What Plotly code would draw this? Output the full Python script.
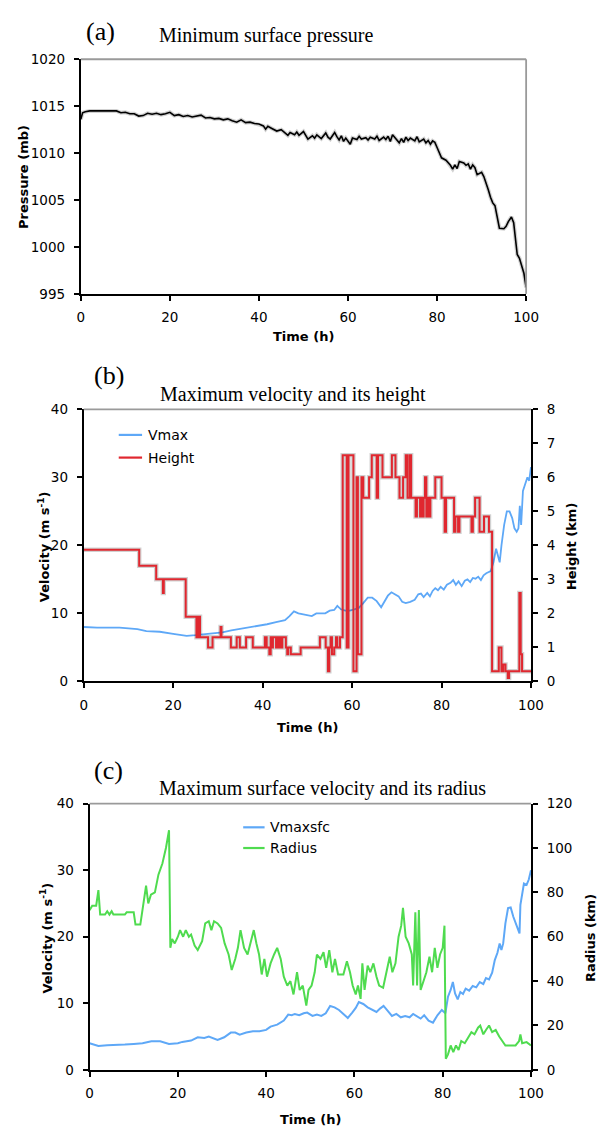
import plotly.graph_objects as go

# ---------- data ----------
# (a) minimum surface pressure (mb)
p_time = [0, 0.4, 1, 2, 4, 6, 8, 9, 10, 11, 12, 13, 14, 15, 16, 17, 18, 19, 20, 21,
          22, 23, 24, 25, 26, 27, 28, 29, 30, 31, 32, 33, 34, 35, 36, 37, 38, 39, 40, 41,
          41.5, 42, 43, 44, 45, 46, 46.5, 47, 48, 48.5, 49, 50, 50.5, 51, 52, 52.5, 53, 54, 55, 55.5,
          56, 57, 57.5, 58, 58.5, 59, 59.5, 60, 60.5, 61, 62, 62.5, 63, 64, 64.5, 65, 66, 66.5, 67, 68,
          68.5, 69, 69.5, 70, 71, 71.5, 72, 72.5, 73, 73.5, 74, 75, 75.5, 76, 77, 77.5, 78, 78.5, 79, 79.5,
          80, 80.5, 81, 82, 83, 83.5, 84, 84.5, 85, 86, 86.5, 87, 87.5, 88, 88.5, 89, 89.5, 90, 90.5, 91,
          91.5, 92, 92.5, 93, 93.5, 94, 95, 95.5, 96, 96.7, 97.2, 97.6, 98, 98.5, 99, 99.5, 100]
pressure = [1013.6, 1014.3, 1014.4, 1014.5, 1014.5, 1014.5, 1014.5, 1014.3, 1014.35, 1014.2, 1014.2, 1013.95, 1014.0, 1014.25, 1014.15, 1014.25, 1014.1, 1014.2, 1014.35, 1014.0,
            1014.1, 1013.9, 1014.0, 1013.85, 1013.95, 1014.05, 1013.75, 1013.8, 1013.65, 1013.7, 1013.55, 1013.65, 1013.45, 1013.3, 1013.55, 1013.25, 1013.3, 1013.15, 1013.1, 1012.9,
            1012.55, 1012.85, 1012.6, 1012.35, 1012.5, 1012.1, 1011.9, 1012.2, 1011.95, 1012.25, 1011.9, 1012.3, 1011.95, 1011.5, 1011.85, 1011.6, 1011.95, 1011.55, 1012.15, 1011.7,
            1011.5, 1012.2, 1011.75, 1011.4, 1011.85, 1011.25, 1011.6, 1011.3, 1010.95, 1011.6, 1011.45, 1011.8, 1011.5, 1011.65, 1011.4, 1011.7, 1011.5, 1011.8, 1011.35, 1011.7,
            1011.45, 1011.8, 1011.25, 1011.95, 1011.3, 1011.1, 1011.55, 1011.15, 1011.7, 1011.35, 1011.6, 1011.3, 1011.75, 1011.2, 1011.5, 1011.1, 1011.35, 1010.95, 1011.3, 1011.15,
            1010.6, 1010.0, 1009.5, 1009.25, 1008.7, 1008.3, 1008.75, 1008.35, 1009.1, 1008.95, 1008.7, 1008.85, 1008.3, 1008.75, 1008.45, 1007.7, 1007.85, 1007.95, 1007.5, 1006.9,
            1006.1, 1005.3, 1004.7, 1004.4, 1003.0, 1002.0, 1001.95, 1002.2, 1002.7, 1003.2, 1002.6, 1000.5, 999.2, 998.8, 998.1, 997.2, 995.7]

# (b) maximum velocity (m/s) and its height (km)
vmax_time = [0, 3, 8, 12, 14, 17, 20, 23, 25, 27, 29, 31, 33, 35, 37, 39, 41, 43, 45, 46,
             47, 48, 49, 50, 51, 52, 53, 54, 55, 56, 56.7, 57.5, 58.5, 59.5, 60.5, 61.5, 62.5, 63.5, 64.5, 65.5,
             66.5, 67.2, 68, 68.8, 69.6, 70.4, 71.2, 72, 73, 74, 74.8, 75.4, 76, 76.8, 77.4, 78, 78.6, 79.2, 79.8, 80.5,
             81.2, 82, 82.6, 83.2, 83.8, 84.5, 85.2, 85.8, 86.4, 87, 87.6, 88.2, 88.8, 89.4, 90, 91, 91.6, 92.2, 92.6, 93,
             93.4, 94, 94.6, 95.2, 95.8, 96.3, 96.8, 97.2, 97.5, 97.8, 98.2, 98.7, 99.2, 99.6, 100]
vmax = [8.0, 7.9, 7.9, 7.7, 7.4, 7.3, 7.0, 6.7, 6.8, 6.9, 7.1, 7.2, 7.5, 7.7, 8.0, 8.2, 8.4, 8.7, 9.0, 9.6,
        10.3, 10.0, 9.9, 9.8, 9.6, 10.0, 10.0, 10.0, 10.4, 10.5, 11.1, 10.6, 10.4, 10.4, 10.6, 10.8, 11.5, 12.3, 12.3, 11.8,
        10.9, 11.6, 12.6, 13.1, 12.8, 12.5, 11.7, 11.5, 11.7, 12.0, 12.8, 12.9, 12.4, 13.0, 12.5, 13.3, 13.7, 13.4, 13.9, 13.5,
        14.2, 14.5, 14.9, 14.2, 14.7, 14.0, 14.8, 15.0, 14.6, 15.2, 15.1, 15.4, 14.9, 15.6, 15.9, 16.2, 17.5, 19.5, 18.5, 17.5,
        20.0, 23.0, 25.0, 25.0, 24.0, 22.5, 22.0, 22.5, 25.8, 23.0, 28.0, 29.0, 30.0, 29.5, 31.5]

height_time = [0, 12.4, 16.2, 17.7, 17.9, 22.8, 25.2, 25.4, 25.6, 25.8, 26.0, 27.8, 28.8, 30.6, 30.8, 32.9, 34.2, 34.9, 36.3, 37.8,
               40.5, 40.9, 41.5, 41.8, 42.1, 42.3, 43.0, 43.2, 43.6, 43.8, 44.2, 44.4, 45.2, 45.5, 45.7, 46.3, 48.5, 52.8, 54.1, 54.6,
               54.9, 55.2, 55.5, 56.0, 56.4, 56.7, 57.3, 57.9, 58.8, 59.2, 60.3, 61.0, 61.3, 62.1, 62.5, 63.8, 64.4, 65.5, 65.8, 66.8,
               68.9, 69.7, 70.6, 71.4, 72.0, 72.4, 72.9, 73.2, 74.2, 74.5, 75.2, 75.4, 75.7, 76.0, 76.3, 76.6, 76.9, 77.2, 77.5, 78.6,
               80.0, 80.7, 81.0, 82.8, 83.1, 83.7, 84.0, 86.7, 87.0, 87.5, 88.5, 89.5, 90.6, 91.3, 92.8, 93.4, 93.8, 94.3, 94.8, 95.1,
               97.4, 97.7, 98.0, 100]
height = [3.87, 3.4, 3.0, 2.6, 3.0, 1.9, 1.3, 1.9, 1.3, 1.9, 1.3, 1.0, 1.3, 1.6, 1.3, 1.0, 1.3, 1.0, 1.3, 1.0,
          1.3, 1.0, 0.8, 1.3, 1.0, 1.3, 1.0, 1.3, 1.0, 1.3, 1.0, 1.3, 1.0, 0.8, 1.0, 0.8, 1.0, 1.3, 1.0, 0.3,
          1.0, 1.3, 0.8, 1.0, 1.3, 1.0, 1.3, 6.65, 1.0, 6.65, 0.3, 6.0, 0.8, 6.0, 5.4, 6.0, 6.65, 5.4, 6.65, 6.0,
          6.65, 6.0, 5.4, 6.0, 6.65, 5.4, 6.65, 5.4, 4.85, 5.4, 4.85, 5.4, 4.85, 5.4, 6.0, 4.85, 5.4, 4.85, 5.4, 6.0,
          5.4, 4.4, 5.4, 4.4, 4.85, 4.4, 4.85, 4.4, 4.85, 5.4, 4.4, 4.85, 4.4, 0.3, 1.0, 0.3, 0.5, 0.3, 0.1, 0.3,
          2.6, 0.8, 0.3, 0.3]

# (c) maximum surface velocity (m/s) and its radius (km)
vsfc_time = [0, 1, 2, 4, 6, 8, 10, 12, 14, 16, 18, 20, 21, 23, 24.5, 26, 27, 28, 29, 30.5,
             32, 33, 34, 35.5, 37, 38.5, 40, 41, 42.5, 44, 45, 45.8, 46.5, 47.5, 48.5, 49.3, 50.5, 51.5, 52.5, 53.5,
             54.5, 55.5, 56.5, 57.5, 58.5, 59.5, 60.3, 61, 62, 63, 64, 65, 65.8, 66.6, 67.5, 68.5, 69.5, 70.5, 71.5, 72.5,
             73.3, 74.2, 75, 75.8, 76.8, 77.8, 78.8, 79.8, 80.6, 81.2, 81.8, 82.3, 82.8, 83.4, 84, 84.6, 85.2, 86, 86.8, 87.6,
             88.4, 89.2, 89.8, 90.5, 91.2, 91.8, 92.4, 92.9, 93.3, 93.7, 94.2, 94.8, 95.4, 96, 96.6, 97.1, 97.4, 97.6, 98, 98.4,
             99, 99.5, 100]
vmaxsfc = [4.0, 3.8, 3.6, 3.7, 3.7, 3.8, 3.9, 4.0, 4.3, 4.3, 3.9, 4.0, 4.2, 4.4, 4.9, 4.8, 5.0, 4.7, 4.5, 4.9,
           5.6, 5.6, 5.3, 5.6, 5.8, 5.8, 6.0, 6.5, 6.8, 7.4, 8.3, 8.2, 8.4, 8.2, 8.5, 8.6, 8.1, 8.3, 8.1, 8.5,
           9.6, 9.4, 9.0, 8.4, 7.8, 8.6, 9.3, 10.2, 9.9, 9.4, 9.0, 8.7, 9.2, 9.6, 8.9, 8.1, 8.4, 7.9, 8.1, 7.9,
           8.4, 8.0, 7.7, 8.2, 7.4, 7.1, 8.2, 9.0, 8.5, 11.0, 12.0, 13.2, 11.5, 10.6, 11.7, 11.4, 12.2, 11.9, 12.6, 12.4,
           13.2, 12.9, 13.8, 13.6, 14.6, 16.5, 17.6, 19.0, 18.0, 19.0, 22.0, 24.3, 24.4, 23.0, 22.0, 21.0, 20.5, 24.8, 26.5, 28.0,
           27.8, 28.6, 30.0]

radius_time = [0, 0.6, 1.5, 2.0, 2.4, 3.5, 4, 4.5, 5, 5.4, 8, 8.4, 10, 10.4, 11.5, 12.3, 12.8, 13.3, 13.9, 14.8,
               15.6, 16.5, 17.3, 18.0, 18.3, 18.7, 19.3, 20, 20.5, 21.2, 21.8, 22.5, 23, 23.8, 24.5, 25.5, 26.2, 27, 27.6, 28.2,
               29, 29.8, 30.6, 31.5, 32.2, 33, 33.6, 34.2, 35, 35.8, 36.5, 37.2, 37.8, 38.4, 39, 39.6, 40.2, 41, 41.8, 42.5,
               43.3, 44, 44.8, 45.5, 46.2, 47, 47.6, 48.3, 49.1, 49.6, 50.3, 51, 51.5, 52.3, 53, 53.6, 54.3, 55, 55.6, 56.3,
               57.5, 58.3, 59, 59.6, 60.3, 60.8, 61.4, 61.8, 62.3, 63, 63.6, 64.3, 65, 65.6, 66.5, 67.3, 68, 68.6, 69.3, 70,
               70.6, 71, 71.6, 72.3, 73, 73.3, 73.8, 74.2, 74.6, 75, 75.6, 76.3, 77, 77.6, 78.2, 78.8, 79.4, 80, 80.4, 80.7,
               81.2, 81.8, 82.4, 83, 83.6, 84.2, 85, 85.8, 86.5, 87.2, 88, 88.5, 89.2, 89.8, 90.5, 91.2, 92, 92.8, 93.5, 94.2,
               95, 96.5, 97.3, 97.6, 98, 99, 100]
radius = [72, 74, 74, 81, 70, 70, 71.5, 70, 71.5, 70, 70, 71, 71, 65.5, 65.5, 77, 83, 75, 79, 80,
          88, 93, 100, 108, 55, 59, 57, 60, 63, 60, 63, 60, 61, 56, 54, 58, 66, 67, 63, 67,
          66, 64, 57, 52, 45, 50, 55, 63, 55, 52, 57, 63, 57, 52, 43, 50, 42, 48, 52, 55,
          50, 42, 38, 40, 34, 44, 36, 38, 29, 36, 38, 44, 52, 50, 53, 46, 54, 44, 50, 43,
          43, 49, 44, 38, 34, 38, 32, 48, 36, 47, 44, 48, 42, 38, 37, 44, 51, 44, 48, 60,
          65, 73, 60, 57, 52, 38, 71, 38, 72, 36, 40, 44, 51, 44, 55, 46, 52, 55, 65, 5,
          7, 11, 8, 11, 9, 13, 12, 15, 17, 16, 19, 20, 16, 18, 20, 17, 18, 15, 13, 11,
          11, 11, 13, 16, 12, 12.5, 11]

time_ticks = [0, 20, 40, 60, 80, 100]

BLUE = "#5ea8f7"
RED = "#e0272f"
GREEN = "#4fdb4f"
SHADOW = "rgba(0,0,0,0.18)"
TICKFONT = dict(family="DejaVu Sans", size=13.5, color="black")
W, H = 614, 1138

fig = go.Figure()

# (a)
fig.add_trace(go.Scatter(x=p_time, y=pressure, mode="lines", xaxis="x", yaxis="y",
                         line=dict(color=SHADOW, width=4), showlegend=False, hoverinfo="skip"))
fig.add_trace(go.Scatter(x=p_time, y=pressure, mode="lines", xaxis="x", yaxis="y",
                         line=dict(color="black", width=1.6), showlegend=False, name="Pressure"))

# (b)
fig.add_trace(go.Scatter(x=vmax_time, y=vmax, mode="lines", xaxis="x2", yaxis="y2",
                         line=dict(color=BLUE, width=1.8), name="Vmax", showlegend=False))
fig.add_trace(go.Scatter(x=height_time, y=height, mode="lines", xaxis="x2", yaxis="y3",
                         line=dict(color=SHADOW, width=4.5, shape="hv"), showlegend=False, hoverinfo="skip"))
fig.add_trace(go.Scatter(x=height_time, y=height, mode="lines", xaxis="x2", yaxis="y3",
                         line=dict(color=RED, width=2, shape="hv"), name="Height", showlegend=False))

# (c)
fig.add_trace(go.Scatter(x=vsfc_time, y=vmaxsfc, mode="lines", xaxis="x3", yaxis="y4",
                         line=dict(color=BLUE, width=2), name="Vmaxsfc", showlegend=False))
fig.add_trace(go.Scatter(x=radius_time, y=radius, mode="lines", xaxis="x3", yaxis="y5",
                         line=dict(color=GREEN, width=2), name="Radius", showlegend=False))


def xpaper(px):
    return px / W


def ypaper(py):
    return 1 - py / H


def xaxis(left, right, anchor):
    return dict(domain=[xpaper(left), xpaper(right)], anchor=anchor, range=[0, 100],
                tickvals=time_ticks, ticks="outside", ticklen=5, tickwidth=1.5, tickcolor="black",
                showline=True, linecolor="black", linewidth=2, showgrid=False, zeroline=False,
                tickfont=TICKFONT, ticklabelstandoff=5)


def yaxis(top, bottom, anchor, rng, dtick, side="left"):
    return dict(domain=[ypaper(bottom), ypaper(top)], anchor=anchor, range=rng, dtick=dtick,
                side=side, ticks="outside", ticklen=5, tickwidth=1.5, tickcolor="black",
                showline=True, linecolor="black", linewidth=2, showgrid=False, zeroline=False,
                tickfont=TICKFONT, ticklabelstandoff=6)


# plot boxes in pixels of the reference
box_a = (79, 537, 52, 290)
box_b = (82, 542, 407, 683)
box_c = (88, 542, 807, 1077)

fig.update_layout(
    width=W, height=H, margin=dict(l=0, r=0, t=0, b=0),
    paper_bgcolor="white", plot_bgcolor="white", showlegend=False,
    xaxis=xaxis(box_a[0], box_a[1], "y"),
    yaxis=yaxis(box_a[2], box_a[3], "x", [995, 1020], 5),
    xaxis2=xaxis(box_b[0], box_b[1], "y2"),
    yaxis2=yaxis(box_b[2], box_b[3], "x2", [0, 40], 10),
    yaxis3=dict(yaxis(box_b[2], box_b[3], "x2", [0, 8], 1, side="right"), overlaying="y2"),
    xaxis3=xaxis(box_c[0], box_c[1], "y4"),
    yaxis4=yaxis(box_c[2], box_c[3], "x3", [0, 40], 10),
    yaxis5=dict(yaxis(box_c[2], box_c[3], "x3", [0, 120], 20, side="right"), overlaying="y4"),
)

# grey top (and right, for panel a) borders
grey = dict(color="#9a9a9a", width=1.8)
fig.add_shape(type="line", xref="x domain", yref="y domain", x0=0, x1=1, y0=1, y1=1, line=grey)
fig.add_shape(type="line", xref="x domain", yref="y domain", x0=1, x1=1, y0=0, y1=1, line=grey)
fig.add_shape(type="line", xref="x2 domain", yref="y2 domain", x0=0, x1=1, y0=1, y1=1, line=grey)
fig.add_shape(type="line", xref="x3 domain", yref="y4 domain", x0=0, x1=1, y0=1, y1=1, line=grey)

SERIF = "Liberation Serif"
BOLD = dict(family="DejaVu Sans", size=13, color="black", weight="bold")
LEGFONT = dict(family="DejaVu Sans", size=14, color="black")


def note(text, px, py, font, angle=0, xanchor="center"):
    fig.add_annotation(text=text, x=xpaper(px), y=ypaper(py), xref="paper", yref="paper",
                       showarrow=False, font=font, textangle=angle, xanchor=xanchor, yanchor="middle")


def legend_item(text, color, x0, x1, py):
    fig.add_shape(type="line", xref="paper", yref="paper", x0=xpaper(x0), x1=xpaper(x1),
                  y0=ypaper(py), y1=ypaper(py), line=dict(color=color, width=2.2))
    note(text, x1 + 4, py, LEGFONT, xanchor="left")


# legends
legend_item("Vmax", BLUE, 118, 142, 433)
legend_item("Height", RED, 118, 142, 456)
legend_item("Vmaxsfc", BLUE, 246, 268, 831)
legend_item("Radius", GREEN, 246, 268, 852)

# panel labels and titles
note("(a)", 99, 24, dict(family=SERIF, size=26, color="black"))
note("Minimum surface pressure", 157, 28, dict(family=SERIF, size=20, color="black"), xanchor="left")
note("(b)", 108, 373, dict(family=SERIF, size=26, color="black"))
note("Maximum velocity and its height", 158, 392, dict(family=SERIF, size=20, color="black"), xanchor="left")
note("(c)", 107, 773, dict(family=SERIF, size=26, color="black"))
note("Maximum surface velocity and its radius", 157, 792, dict(family=SERIF, size=20, color="black"), xanchor="left")

# axis titles
note("Pressure (mb)", 20, 171, BOLD, angle=-90)
note("Time (h)", 308, 333, BOLD)
note("Velocity (m s<sup>-1</sup>)", 41, 546, BOLD, angle=-90)
note("Height (km)", 583, 546, BOLD, angle=-90)
note("Time (h)", 312, 730, BOLD)
note("Velocity (m s<sup>-1</sup>)", 43, 943, BOLD, angle=-90)
note("Radius (km)", 603, 943, BOLD, angle=-90)
note("Time (h)", 315, 1127, BOLD)

# drop the page's default body margin so the figure sits at the window corner
fig.write_html("out.html", config={"displayModeBar": False},
               post_script="document.body.style.margin = '0';")
